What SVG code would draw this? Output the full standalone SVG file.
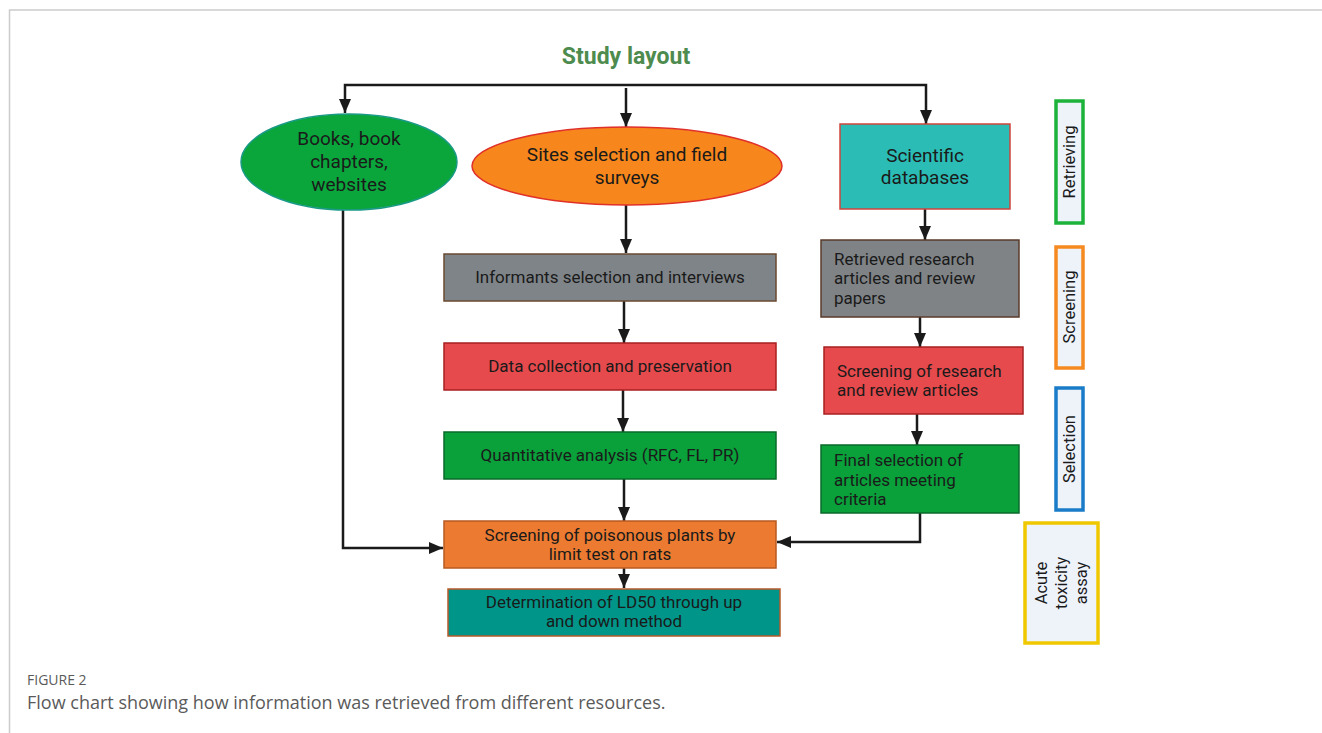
<svg xmlns="http://www.w3.org/2000/svg" width="1322" height="733" viewBox="0 0 1322 733">
<defs>
<marker id="ah" viewBox="0 0 14 12" refX="14" refY="6" markerWidth="14" markerHeight="12" markerUnits="userSpaceOnUse" orient="auto">
<path d="M0,0 L14,6 L0,12 z" fill="#1a1a1a"/>
</marker>
<style>
.t{font-family:Roboto,"Liberation Sans",sans-serif;fill:#1a1a1a;}
.c{text-anchor:middle;}
.conn path{fill:none;stroke:#1a1a1a;stroke-width:2.5;marker-end:url(#ah);}
.lab{fill:#eef3fa;stroke-width:3.5;}
.cap{font-family:"Open Sans","Liberation Sans",sans-serif;fill:#5a5a5a;}
</style>
</defs>
<rect width="1322" height="733" fill="#ffffff"/>
<path d="M9.5,733 V10 H1322" fill="none" stroke="#cccccc" stroke-width="1.5"/>
<text x="626" y="64" class="t c" style="fill:#4e8b4e;font-weight:bold;font-size:23px">Study layout</text>

<g class="conn">
<path d="M626,85 H345 V113"/>
<path d="M626,85 H926 V124"/>
<path d="M626,88 V127"/>
<path d="M343,210 V548 H443"/>
<path d="M626,205 V253"/>
<path d="M624,301 V343"/>
<path d="M623,390 V432"/>
<path d="M624,479 V521"/>
<path d="M624,568 V588"/>
<path d="M925,209 V240"/>
<path d="M920,317 V347"/>
<path d="M917,414 V445"/>
<path d="M920,513 V542 H777"/>
</g>

<g id="books">
<ellipse cx="349" cy="162" rx="108" ry="48" fill="#0aa63c" stroke="#1a9a86" stroke-width="1.5"/>
<text class="t c" x="349" style="font-size:19px"><tspan x="349" y="145">Books, book</tspan><tspan x="349" y="168">chapters,</tspan><tspan x="349" y="191">websites</tspan></text>
</g>
<g id="sites">
<ellipse cx="627" cy="166" rx="155" ry="39" fill="#f7871c" stroke="#e0302a" stroke-width="1.5"/>
<text class="t c" style="font-size:19px"><tspan x="627" y="161">Sites selection and field</tspan><tspan x="627" y="184">surveys</tspan></text>
</g>
<g id="scidb">
<rect x="840" y="124" width="170" height="85" fill="#2bbdb5" stroke="#d0453c" stroke-width="1.5"/>
<text class="t c" style="font-size:19px"><tspan x="925" y="162">Scientific</tspan><tspan x="925" y="184">databases</tspan></text>
</g>
<g id="informants">
<rect x="444" y="254" width="332" height="47" fill="#7f8488" stroke="#6a4a30" stroke-width="1.5"/>
<text class="t c" x="610" y="283" style="font-size:17px">Informants selection and interviews</text>
</g>
<g id="datacoll">
<rect x="444" y="343" width="332" height="47" fill="#e64a4d" stroke="#a82020" stroke-width="1.5"/>
<text class="t c" x="610" y="372" style="font-size:17px">Data collection and preservation</text>
</g>
<g id="quant">
<rect x="444" y="432" width="332" height="47" fill="#0aa03a" stroke="#0a6a2a" stroke-width="1.5"/>
<text class="t c" x="610" y="461" style="font-size:17px">Quantitative analysis (RFC, FL, PR)</text>
</g>
<g id="screenpoison">
<rect x="444" y="521" width="332" height="47" fill="#ec7b31" stroke="#b85a22" stroke-width="1.5"/>
<text class="t c" style="font-size:17px"><tspan x="610" y="541">Screening of poisonous plants by</tspan><tspan x="610" y="560">limit test on rats</tspan></text>
</g>
<g id="ld50">
<rect x="448" y="589" width="332" height="47" fill="#009589" stroke="#b85a2a" stroke-width="1.5"/>
<text class="t c" style="font-size:17px"><tspan x="614" y="608">Determination of LD50 through up</tspan><tspan x="614" y="627">and down method</tspan></text>
</g>
<g id="retrieved">
<rect x="821" y="240" width="198" height="77" fill="#7f8386" stroke="#5a3a2a" stroke-width="1.5"/>
<text class="t" style="font-size:17px"><tspan x="834" y="265">Retrieved research</tspan><tspan x="834" y="284">articles and review</tspan><tspan x="834" y="304">papers</tspan></text>
</g>
<g id="screenart">
<rect x="824" y="347" width="199" height="67" fill="#e64a4d" stroke="#a82020" stroke-width="1.5"/>
<text class="t" style="font-size:17px"><tspan x="837" y="377">Screening of research</tspan><tspan x="837" y="396">and review articles</tspan></text>
</g>
<g id="finalsel">
<rect x="821" y="445" width="198" height="68" fill="#0aa03a" stroke="#0a6a2a" stroke-width="1.5"/>
<text class="t" style="font-size:17px"><tspan x="834" y="466">Final selection of</tspan><tspan x="834" y="486">articles meeting</tspan><tspan x="834" y="505">criteria</tspan></text>
</g>

<g id="lab-retrieving">
<rect class="lab" x="1056" y="101" width="27" height="122" stroke="#1db33a"/>
<text class="t c" transform="translate(1075,162) rotate(-90)" x="0" y="0" style="font-size:16.5px">Retrieving</text>
</g>
<g id="lab-screening">
<rect class="lab" x="1056" y="247" width="27" height="121" stroke="#f58a20"/>
<text class="t c" transform="translate(1075,307) rotate(-90)" x="0" y="0" style="font-size:16.5px">Screening</text>
</g>
<g id="lab-selection">
<rect class="lab" x="1056" y="388" width="27" height="122" stroke="#1a7cc8"/>
<text class="t c" transform="translate(1075,449) rotate(-90)" x="0" y="0" style="font-size:16.5px">Selection</text>
</g>
<g id="lab-acute">
<rect class="lab" x="1025" y="523" width="73" height="120" stroke="#f0c800" stroke-width="4"/>
<text class="t c" transform="translate(1061,583) rotate(-90)" style="font-size:16.5px"><tspan x="0" y="-14">Acute</tspan><tspan x="0" y="6">toxicity</tspan><tspan x="0" y="26">assay</tspan></text>
</g>

<text class="cap" x="27" y="685" style="font-size:14px">FIGURE 2</text>
<text class="cap" x="27" y="709" style="font-size:18px">Flow chart showing how information was retrieved from different resources.</text>
</svg>
